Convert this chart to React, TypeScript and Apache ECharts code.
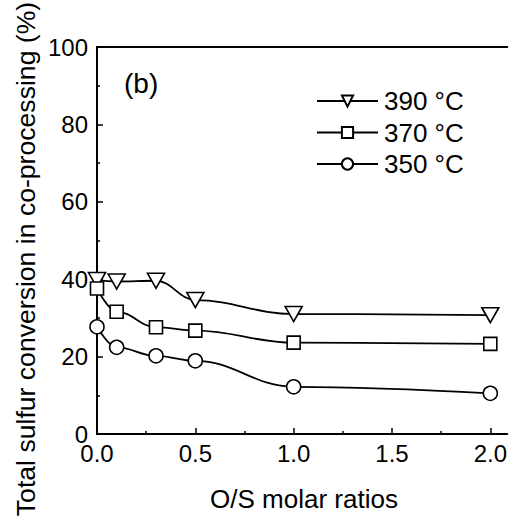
import React, { useEffect, useRef } from "react";
import * as echarts from "echarts";

const xValues = [0, 0.1, 0.3, 0.5, 1.0, 2.0];
const seriesNames = ["390 °C", "370 °C", "350 °C"];
const s390 = [39.8, 39.4, 39.6, 34.6, 31.0, 30.7];
const s370 = [37.6, 31.6, 27.6, 26.7, 23.6, 23.3];
const s350 = [27.7, 22.4, 20.2, 18.9, 12.2, 10.5];
const xMajorTicks = [0, 0.5, 1.0, 1.5, 2.0];
const xMinorTicks = [0.25, 0.75, 1.25, 1.75];
const yTitle = "Total sulfur conversion in co-processing (%)";
const xTitle = "O/S molar ratios";
const panelLabel = "(b)";

const FONT = "'Liberation Sans', Arial, sans-serif";

export default function App() {
  const ref = useRef<HTMLDivElement>(null);
  useEffect(() => {
    if (!ref.current) return;
    const chart = echarts.init(ref.current, null, { renderer: "svg" });
    const mk = (vals: number[]) => xValues.map((x, i) => [x, vals[i]]);
    const common = {
      type: "line",
      smooth: 0.4,
      smoothMonotone: "x",
      lineStyle: { color: "#000", width: 1.8 },
      itemStyle: { color: "#fff", borderColor: "#000", borderWidth: 1.6 },
      emphasis: { disabled: true },
      z: 3,
    };
    const xMax = 2.086;
    chart.setOption({
      animation: false,
      textStyle: { fontFamily: FONT },
      grid: { left: 97, right: 0, top: 47, bottom: 85, containLabel: false },
      legend: {
        orient: "vertical",
        left: 316,
        top: 88,
        padding: 0,
        itemGap: 5.5,
        itemWidth: 61,
        itemHeight: 14,
        data: seriesNames,
        textStyle: { fontSize: 26, color: "#000", fontFamily: FONT, padding: [0, 0, 0, 1] },
      },
      xAxis: [
        {
          type: "value",
          min: 0,
          max: xMax,
          position: "bottom",
          axisLine: { show: true, onZero: false, lineStyle: { color: "#000", width: 2 } },
          axisTick: { show: true, inside: true, length: 6, customValues: xMajorTicks, lineStyle: { color: "#000", width: 1.5 } },
          axisLabel: {
            show: true,
            customValues: xMajorTicks,
            formatter: (v: number) => v.toFixed(1),
            fontSize: 24,
            color: "#000",
            margin: 7,
            fontFamily: FONT,
          },
          splitLine: { show: false },
        },
        {
          type: "value",
          min: 0,
          max: xMax,
          position: "top",
          axisLine: { show: true, onZero: false, lineStyle: { color: "#000", width: 2 } },
          axisTick: { show: false },
          axisLabel: { show: false },
          splitLine: { show: false },
        },
        {
          type: "value",
          min: 0,
          max: xMax,
          position: "bottom",
          axisLine: { show: false, onZero: false },
          axisTick: { show: true, inside: true, length: 3, customValues: xMinorTicks, lineStyle: { color: "#000", width: 1.5 } },
          axisLabel: { show: false },
          splitLine: { show: false },
        },
      ],
      yAxis: {
        type: "value",
        min: 0,
        max: 100,
        interval: 20,
        axisLine: { show: true, onZero: false, lineStyle: { color: "#000", width: 2 } },
        axisTick: { show: true, inside: true, length: 6, lineStyle: { color: "#000", width: 1.5 } },
        minorTick: { show: true, splitNumber: 2, length: 3, lineStyle: { color: "#000", width: 1.5 } },
        axisLabel: { fontSize: 24, color: "#000", margin: 9, fontFamily: FONT, padding: [0, 0, 3, 0] },
        splitLine: { show: false },
      },
      graphic: [
        {
          type: "text",
          x: 26,
          y: 259,
          rotation: Math.PI / 2,
          style: {
            text: yTitle,
            fontSize: 26.6,
            fontFamily: FONT,
            fill: "#000",
            textAlign: "center",
            textVerticalAlign: "middle",
          },
        },
        {
          type: "text",
          x: 304,
          y: 499,
          style: {
            text: xTitle,
            fontSize: 26,
            fontFamily: FONT,
            fill: "#000",
            textAlign: "center",
            textVerticalAlign: "middle",
          },
        },
        {
          type: "text",
          x: 124,
          y: 83,
          style: {
            text: panelLabel,
            fontSize: 28,
            fontFamily: FONT,
            fill: "#000",
            textAlign: "left",
            textVerticalAlign: "middle",
          },
        },
      ],
      series: [
        { ...common, name: seriesNames[0], data: mk(s390), symbol: "triangle", symbolRotate: 180, symbolSize: [17, 15] },
        { ...common, name: seriesNames[1], data: mk(s370), symbol: "rect", symbolSize: 13 },
        { ...common, name: seriesNames[2], data: mk(s350), symbol: "circle", symbolSize: 14 },
      ],
    });
    return () => chart.dispose();
  }, []);
  return (
    <div
      ref={ref}
      style={{ position: "fixed", left: 0, top: 0, width: 510, height: 519, background: "#fff" }}
    />
  );
}
